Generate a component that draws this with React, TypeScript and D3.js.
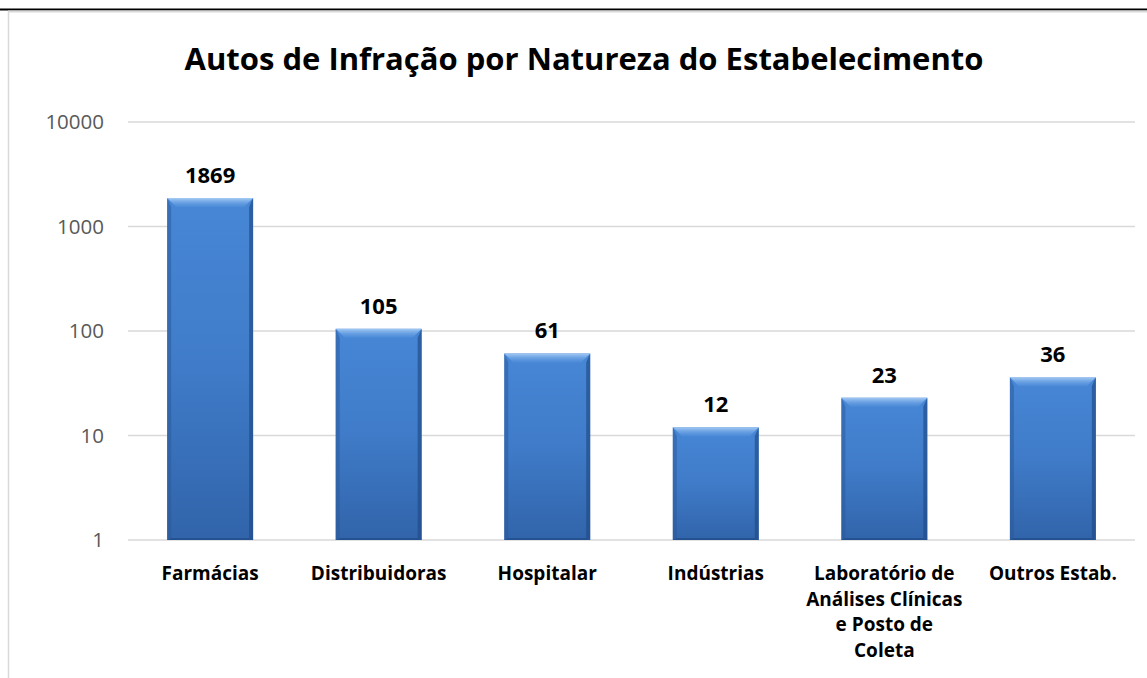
import * as d3 from 'd3'
import { useEffect, useRef } from 'react'

const categories = [
    ['Farmácias'],
    ['Distribuidoras'],
    ['Hospitalar'],
    ['Indústrias'],
    ['Laboratório de', 'Análises Clínicas', 'e Posto de', 'Coleta'],
    ['Outros Estab.'],
]
const values = [1869, 105, 61, 12, 23, 36]
const yTicks = [1, 10, 100, 1000, 10000]
const title = 'Autos de Infração por Natureza do Estabelecimento'

const font = '"Open Sans", Lato, sans-serif'

export default function App() {
    const ref = useRef<SVGSVGElement>(null)

    useEffect(() => {
        const width = 1147
        const height = 678
        const svg = d3.select(ref.current)
        svg.selectAll('*').remove()
        svg.attr('width', width).attr('height', height)

        const defs = svg.append('defs')
        const grad = defs.append('linearGradient').attr('id', 'barFill')
            .attr('x1', 0).attr('y1', 0).attr('x2', 0).attr('y2', 1)
        grad.append('stop').attr('offset', '0%').attr('stop-color', '#4787d6')
        grad.append('stop').attr('offset', '50%').attr('stop-color', '#3f7bc8')
        grad.append('stop').attr('offset', '100%').attr('stop-color', '#3164aa')
        const topGrad = defs.append('linearGradient').attr('id', 'bevelTop')
            .attr('x1', 0).attr('y1', 0).attr('x2', 0).attr('y2', 1)
        topGrad.append('stop').attr('offset', '0%').attr('stop-color', '#a9cdf5').attr('stop-opacity', 0.95)
        topGrad.append('stop').attr('offset', '100%').attr('stop-color', '#5a97e0').attr('stop-opacity', 0.3)

        // frame
        svg.append('rect').attr('x', 0).attr('y', 0).attr('width', width).attr('height', height).attr('fill', '#fff')
        svg.append('line').attr('x1', 0).attr('x2', width).attr('y1', 9.5).attr('y2', 9.5)
            .attr('stroke', '#000').attr('stroke-width', 2)
        svg.append('line').attr('x1', 8).attr('x2', width).attr('y1', 11.5).attr('y2', 11.5)
            .attr('stroke', '#d9d9d9').attr('stroke-width', 2)
        svg.append('line').attr('x1', 8.5).attr('x2', 8.5).attr('y1', 11).attr('y2', height)
            .attr('stroke', '#d9d9d9').attr('stroke-width', 1.5)

        svg.append('text')
            .attr('x', 584).attr('y', 70)
            .attr('text-anchor', 'middle')
            .attr('font-family', font)
            .attr('font-weight', 'bold')
            .attr('font-size', 31)
            .attr('fill', '#000')
            .text(title)

        const x = d3.scaleBand<number>()
            .domain(d3.range(values.length))
            .range([125, 1138])
            .paddingInner(0.49)
            .paddingOuter(0.25)

        const y = d3.scaleLog()
            .domain([1, 10000])
            .range([540, 122])

        const grid = svg.append('g')
        grid.selectAll('line').data(yTicks).join('line')
            .attr('x1', 128).attr('x2', 1135)
            .attr('y1', d => y(d)).attr('y2', d => y(d))
            .attr('stroke', '#d9d9d9').attr('stroke-width', 1.5)

        svg.append('g').selectAll('text').data(yTicks).join('text')
            .attr('x', 104).attr('y', d => y(d))
            .attr('dy', '0.35em')
            .attr('text-anchor', 'end')
            .attr('font-family', font)
            .attr('font-size', 20.5)
            .attr('fill', '#595959')
            .text(d => d)

        const bars = svg.append('g').selectAll('g').data(values).join('g')
        const bw = x.bandwidth()
        const bt = 9 // top bevel depth
        const bs = 4 // side bevel width
        bars.append('rect')
            .attr('x', (d, i) => x(i)!)
            .attr('y', d => y(d))
            .attr('width', bw)
            .attr('height', d => y(1) - y(d))
            .attr('fill', 'url(#barFill)')
        bars.append('polygon')
            .attr('points', (d, i) => {
                const x0 = x(i)!, t = y(d), b = y(1)
                return `${x0},${t} ${x0 + bs},${t + bt} ${x0 + bs},${b - 2} ${x0},${b}`
            })
            .attr('fill', '#2a5898').attr('opacity', 0.5)
        bars.append('polygon')
            .attr('points', (d, i) => {
                const x1 = x(i)! + bw, t = y(d), b = y(1)
                return `${x1},${t} ${x1 - bs},${t + bt} ${x1 - bs},${b - 2} ${x1},${b}`
            })
            .attr('fill', '#1f4a86').attr('opacity', 0.65)
        bars.append('polygon')
            .attr('points', (d, i) => {
                const x0 = x(i)!, x1 = x0 + bw, b = y(1)
                return `${x0},${b} ${x1},${b} ${x1 - bs},${b - 2} ${x0 + bs},${b - 2}`
            })
            .attr('fill', '#1f4a86').attr('opacity', 0.7)
        bars.append('polygon')
            .attr('points', (d, i) => {
                const x0 = x(i)!, x1 = x0 + bw, t = y(d)
                return `${x0},${t} ${x1},${t} ${x1 - bt},${t + bt} ${x0 + bt},${t + bt}`
            })
            .attr('fill', 'url(#bevelTop)')

        svg.append('g').selectAll('text').data(values).join('text')
            .attr('x', (d, i) => x(i)! + bw / 2)
            .attr('y', d => y(d) - 15)
            .attr('text-anchor', 'middle')
            .attr('font-family', font)
            .attr('font-weight', 'bold')
            .attr('font-size', 22)
            .attr('fill', '#000')
            .text(d => d)

        const labels = svg.append('g').selectAll('text').data(categories).join('text')
            .attr('x', (d, i) => x(i)! + bw / 2)
            .attr('y', 580)
            .attr('text-anchor', 'middle')
            .attr('font-family', font)
            .attr('font-weight', 'bold')
            .attr('font-size', 19)
            .attr('fill', '#000')
        labels.selectAll('tspan').data((d, i) => d.map(s => ({ s, i }))).join('tspan')
            .attr('x', d => x(d.i)! + bw / 2)
            .attr('dy', (d, j) => (j === 0 ? 0 : 25.5))
            .text(d => d.s)
    })

    return (
        <div style={{ position: 'absolute', left: 0, top: 0 }}>
            <svg ref={ref}></svg>
        </div>
    )
}
